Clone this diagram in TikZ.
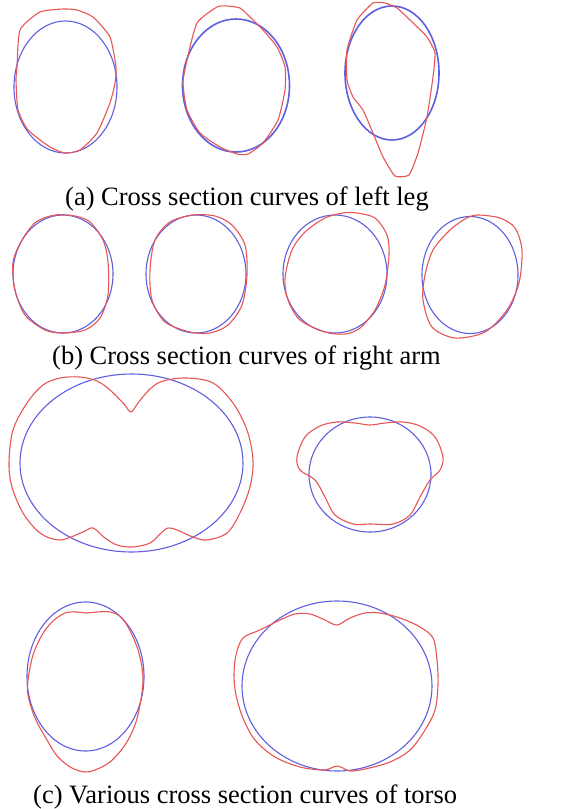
\documentclass[tikz,border=0pt]{standalone}
\usepackage{fontspec}
\setmainfont{Liberation Serif}
\definecolor{fitblue}{RGB}{95,95,225}
\definecolor{curvered}{RGB}{232,85,85}
\tikzset{
  fitcurve/.style={draw=fitblue, line width=1.1pt},
  fitthick/.style={draw=fitblue, line width=1.6pt},
  sect/.style={draw=curvered, line width=1.1pt},
  captext/.style={anchor=base west, inner sep=0pt, font=\fontsize{26.5}{30}\selectfont}
}
\begin{document}
\begin{tikzpicture}[x=1pt,y=-1pt]
\useasboundingbox[fill=white] (0,0) rectangle (571,809);
% ---------- (a) left leg ----------
\draw[fitcurve] (65.5,87) ellipse [x radius=51.5, y radius=66];
\draw[sect] plot[smooth cycle, tension=0.35] coordinates {(63,9) (77,10) (93,17) (110,37) (116,67) (115,83) (110,103) (97,133) (80,150) (65,153) (50,147) (28,130) (18,110) (16,80) (17,67) (20,30) (40,12)};
\draw[fitthick] (236,85.5) ellipse [x radius=53.5, y radius=66.5];
\draw[sect] plot[smooth cycle, tension=0.35] coordinates {(217,7) (227,6) (240,8) (250,17) (263,30) (277,47) (285,67) (285,90) (278,120) (263,143) (248,154) (237,154) (220,147) (200,133) (187,110) (183,83) (187,60) (197,23)};
\draw[fitthick] (392,73) ellipse [x radius=47, y radius=67];
\draw[sect] plot[smooth cycle, tension=0.3] coordinates {(373,3) (385,3) (397,8) (410,20) (427,37) (435,53) (433,77) (427,117) (418,153) (409,175) (395,176) (383,157) (373,133) (363,110) (353,97) (347,80) (347,50) (357,20)};
\node[captext] (capa) at (65,205) {(a) Cross section curves of left leg};
% ---------- (b) right arm ----------
\draw[fitcurve] (63,274) ellipse [x radius=50, y radius=59];
\draw[sect] plot[smooth cycle, tension=0.5] coordinates {(55,215) (75,216) (90,222) (103,240) (108,262) (108,295) (100,318) (85,330) (63,333) (45,330) (25,315) (15,290) (13,262) (22,240) (36,222)};
\draw[fitcurve] (196,274) ellipse [x radius=50, y radius=59];
\draw[sect] plot[smooth cycle, tension=0.5] coordinates {(193,215) (215,216) (232,225) (245,245) (247,275) (242,305) (228,325) (210,333) (190,332) (165,322) (152,300) (150,270) (155,240) (170,222)};
\draw[fitcurve] (335,274) ellipse [x radius=52, y radius=59];
\draw[sect] plot[smooth cycle, tension=0.5] coordinates {(357,213) (375,218) (387,235) (389,255) (385,285) (375,310) (360,328) (345,334) (325,332) (300,320) (288,300) (285,278) (292,250) (305,232) (325,218) (343,213)};
\draw[fitcurve] (470,275) ellipse [x radius=48, y radius=58.5];
\draw[sect] plot[smooth cycle, tension=0.5] coordinates {(477,215) (500,218) (515,228) (522,250) (519,283) (507,310) (485,332) (455,338) (432,327) (423,300) (425,275) (433,250) (450,230) (465,219)};
\node[captext] (capb) at (52,364) {(b) Cross section curves of right arm};
% ---------- (c) torso ----------
\draw[fitcurve] (131.5,463) ellipse [x radius=111.5, y radius=89];
\draw[sect] plot[smooth cycle, tension=0.55] coordinates {(131,412) (138,403) (150,389) (163,381) (187,378) (213,383) (233,403) (247,430) (253,460) (250,487) (240,513) (227,533) (207,540) (193,537) (177,530) (168,528) (160,534) (150,543) (133,547) (117,545) (105,538) (93,528) (83,532) (60,540) (40,533) (23,513) (12,487) (9,463) (13,430) (27,403) (43,385) (60,378) (80,377) (97,381) (110,390) (124,404)};
\draw[fitcurve] (370,474.5) ellipse [x radius=61, y radius=57.5];
\draw[sect] plot[smooth cycle, tension=0.55] coordinates {(370,425) (385,423) (403,422) (420,426) (435,437) (443,457) (440,470) (430,480) (420,497) (410,515) (393,524) (370,524) (353,524) (335,515) (325,497) (315,480) (300,470) (297,457) (305,437) (320,426) (337,422) (355,423)};
\draw[fitcurve] (85.5,676.5) ellipse [x radius=58.5, y radius=74.5];
\draw[sect] plot[smooth cycle, tension=0.55] coordinates {(87,613) (97,612) (110,612) (122,618) (133,637) (140,657) (143,680) (140,705) (135,725) (125,745) (110,762) (95,770) (85,772) (72,768) (58,757) (47,740) (35,718) (28,695) (28,680) (33,655) (42,635) (52,622) (65,613) (77,612)};
\draw[fitcurve] (337,686) ellipse [x radius=95, y radius=85];
\draw[sect] plot[smooth cycle, tension=0.55] coordinates {(337,625) (350,618) (365,613) (380,613) (400,618) (420,627) (433,638) (437,660) (438,685) (435,710) (425,730) (410,750) (390,762) (365,769) (350,771) (343,768) (337,766) (331,768) (323,770) (300,767) (275,757) (255,740) (243,718) (236,695) (234,675) (236,655) (243,638) (260,630) (280,620) (295,614) (310,614) (325,620)};
\node[captext] (capc) at (33,803) {(c) Various cross section curves of torso};
\end{tikzpicture}
\end{document}
